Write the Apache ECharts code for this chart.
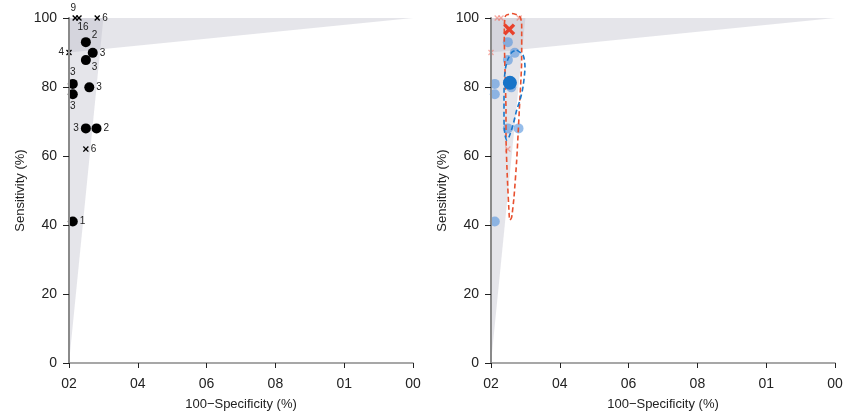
<!DOCTYPE html>
<html>
<head>
<meta charset="utf-8">
<script src="https://cdn.jsdelivr.net/npm/echarts@6/dist/echarts.min.js"></script>
<style>html,body{margin:0;padding:0;background:#fff}#c{width:844px;height:413px}</style>
</head>
<body>
<div id="c"></div>
<script>
// ---- data ----
const xTickValues = [0, 20, 40, 60, 80, 100];
const xTickLabels = ['02', '04', '06', '08', '01', '00'];
const yTickLabels = ['0', '20', '40', '60', '80', '100'];

// studies shown as dots (100-specificity, sensitivity, label)
const dotFpr   = [4.9, 6.9, 4.9, 1.1, 1.1, 5.9, 4.9, 8.0, 1.1];
const dotSens  = [93.0, 89.9, 87.8, 80.9, 77.9, 79.9, 68.0, 68.0, 41.0];
const dotLabel = ['2', '3', '3', '3', '3', '3', '3', '2', '1'];
const dotPlace = ['upright', 'right', 'downright', 'top', 'bottom', 'right', 'left', 'right', 'right'];

// studies shown as crosses
const crossFpr   = [1.8, 2.9, 8.2, 0.0, 4.9];
const crossSens  = [100, 100, 100, 90, 62];
const crossLabel = ['9', '16', '6', '4', '6'];
const crossPlace = ['topleft', 'bottomright', 'right', 'left', 'right'];

// summary points
const summaryDot   = [5.5, 81.2];
const summaryCross = [5.3, 96.7];

// shaded wedges (data-space vertices)
const wedgeVertical   = [[0, 0], [0, 100], [10, 100]];
const wedgeHorizontal = [[0, 90], [0, 100], [100, 100]];

// confidence contours
const redContourFpr  = [3.87, 4.1, 4.56, 6.1, 8.0, 8.6, 8.92, 8.92, 8.23, 7.47, 6.69, 6.02, 5.52, 5.32, 4.74, 4.36, 4.36, 4.07, 3.87, 3.87];
const redContourSens = [98.0, 100.3, 100.9, 101.3, 100.8, 100.1, 98.0, 87.8, 73.3, 58.8, 48.1, 42.3, 41.4, 42.3, 53.9, 65.5, 73.3, 84.9, 93.6, 98.0];
const blueContourFpr  = [7.47, 9.3, 9.88, 9.3, 8.43, 7.47, 6.4, 5.23, 4.65, 4.07, 3.78, 3.78, 3.87, 4.22, 4.94, 6.1, 7.47];
const blueContourSens = [90.7, 89.3, 85.8, 80.0, 76.2, 73.3, 69.0, 65.5, 64.6, 66.1, 70.4, 76.2, 82.0, 85.5, 88.1, 90.1, 90.7];

// ---- chart ----
const FONT = '"Liberation Sans", Arial, sans-serif';
const X_PATH = 'path://M0,1.6L1.6,0L5,3.4L8.4,0L10,1.6L6.6,5L10,8.4L8.4,10L5,6.6L1.6,10L0,8.4L3.4,5Z';
const X_BOLD = 'path://M0,2L2,0L5,3L8,0L10,2L7,5L10,8L8,10L5,7L2,10L0,8L3,5Z';
const zip = (a, b) => a.map((v, i) => [v, b[i]]);

function labelFor(place) {
  const base = { show: true, fontSize: 10, color: '#222', fontFamily: FONT, distance: 2 };
  switch (place) {
    case 'upright': return Object.assign(base, { position: 'right', offset: [-1, -7] });
    case 'downright': return Object.assign(base, { position: 'right', offset: [-1, 7] });
    case 'topleft': return Object.assign(base, { position: 'top', offset: [-2, 0] });
    case 'bottomright': return Object.assign(base, { position: 'bottom', offset: [4, -1] });
    default: return Object.assign(base, { position: place });
  }
}

function xAxisCfg(gi) {
  return {
    gridIndex: gi, type: 'value', min: 0, max: 100, interval: 20,
    name: '100\u2212Specificity (%)', nameLocation: 'middle', nameGap: 35,
    nameTextStyle: { fontSize: 13, color: '#222', fontFamily: FONT },
    axisLine: { show: true, lineStyle: { color: '#8a8a8a', width: 1.5 } },
    axisTick: { show: true, length: 5, lineStyle: { color: '#222' } },
    axisLabel: {
      fontSize: 14, color: '#222', fontFamily: FONT, margin: 14,
      formatter: v => xTickLabels[xTickValues.indexOf(v)]
    },
    splitLine: { show: false }, z: 5
  };
}
function yAxisCfg(gi) {
  return {
    gridIndex: gi, type: 'value', min: 0, max: 100, interval: 20,
    name: 'Sensitivity (%)', nameLocation: 'middle', nameGap: 42,
    nameTextStyle: { fontSize: 13, color: '#222', fontFamily: FONT },
    axisLine: { show: true, lineStyle: { color: '#8a8a8a', width: 2 } },
    axisTick: { show: true, length: 6, lineStyle: { color: '#222' } },
    axisLabel: {
      fontSize: 14, color: '#222', fontFamily: FONT, margin: 12,
      formatter: v => yTickLabels[v / 20]
    },
    splitLine: { show: false }, z: 5
  };
}

function wedgeSeries(gi) {
  const polys = [wedgeVertical, wedgeHorizontal];
  return {
    type: 'custom', xAxisIndex: gi, yAxisIndex: gi, z: 1, silent: true,
    data: polys.map((p, i) => [0, 0, i]),
    renderItem: (params, api) => {
      const verts = polys[params.dataIndex];
      return {
        type: 'polygon',
        shape: { points: verts.map(v => api.coord(v)) },
        style: { fill: 'rgba(190,190,202,0.4)' }
      };
    }
  };
}

const series = [
  wedgeSeries(0),
  wedgeSeries(1),
  // left panel
  {
    type: 'scatter', xAxisIndex: 0, yAxisIndex: 0, z: 3, symbol: 'circle', symbolSize: 10,
    itemStyle: { color: '#000', opacity: 1 },
    data: dotFpr.map((x, i) => ({ value: [x, dotSens[i]], label: Object.assign(labelFor(dotPlace[i]), { formatter: dotLabel[i] }) }))
  },
  {
    type: 'scatter', xAxisIndex: 0, yAxisIndex: 0, z: 3, symbol: X_PATH, symbolSize: 6,
    itemStyle: { color: '#000', opacity: 1 }, clip: false,
    data: crossFpr.map((x, i) => ({ value: [x, crossSens[i]], label: Object.assign(labelFor(crossPlace[i]), { formatter: crossLabel[i] }) }))
  },
  // right panel
  {
    type: 'scatter', xAxisIndex: 1, yAxisIndex: 1, z: 3, symbol: 'circle', symbolSize: 10,
    itemStyle: { color: 'rgba(80,145,220,0.6)', opacity: 1 },
    data: zip(dotFpr, dotSens)
  },
  {
    type: 'scatter', xAxisIndex: 1, yAxisIndex: 1, z: 3, symbol: X_PATH, symbolSize: 6, clip: false,
    itemStyle: { color: 'rgba(240,110,95,0.55)', opacity: 1 },
    data: zip(crossFpr, crossSens)
  },
  {
    type: 'line', xAxisIndex: 1, yAxisIndex: 1, z: 4, showSymbol: false, clip: false, smooth: 0.15,
    lineStyle: { color: '#e8502f', width: 1.6, type: [5, 3] },
    data: zip(redContourFpr, redContourSens)
  },
  {
    type: 'line', xAxisIndex: 1, yAxisIndex: 1, z: 4, showSymbol: false, clip: false, smooth: 0.25,
    lineStyle: { color: '#1a78cc', width: 1.6, type: [5, 3] },
    data: zip(blueContourFpr, blueContourSens)
  },
  {
    type: 'scatter', xAxisIndex: 1, yAxisIndex: 1, z: 5, symbol: 'circle', symbolSize: 14,
    itemStyle: { color: '#1874c8', opacity: 1 },
    data: [summaryDot]
  },
  {
    type: 'scatter', xAxisIndex: 1, yAxisIndex: 1, z: 5, symbol: X_BOLD, symbolSize: 12,
    itemStyle: { color: '#e8412c', opacity: 1 },
    data: [summaryCross]
  }
];

const chart = echarts.init(document.getElementById('c'), null, { renderer: 'canvas' });
chart.setOption({
  animation: false,
  backgroundColor: '#fff',
  grid: [
    { left: 69, right: 431, top: 18, bottom: 50, containLabel: false, outerBoundsMode: 'none' },
    { left: 491, right: 9, top: 18, bottom: 50, containLabel: false, outerBoundsMode: 'none' }
  ],
  xAxis: [xAxisCfg(0), xAxisCfg(1)],
  yAxis: [yAxisCfg(0), yAxisCfg(1)],
  series: series
});
</script>
</body>
</html>
